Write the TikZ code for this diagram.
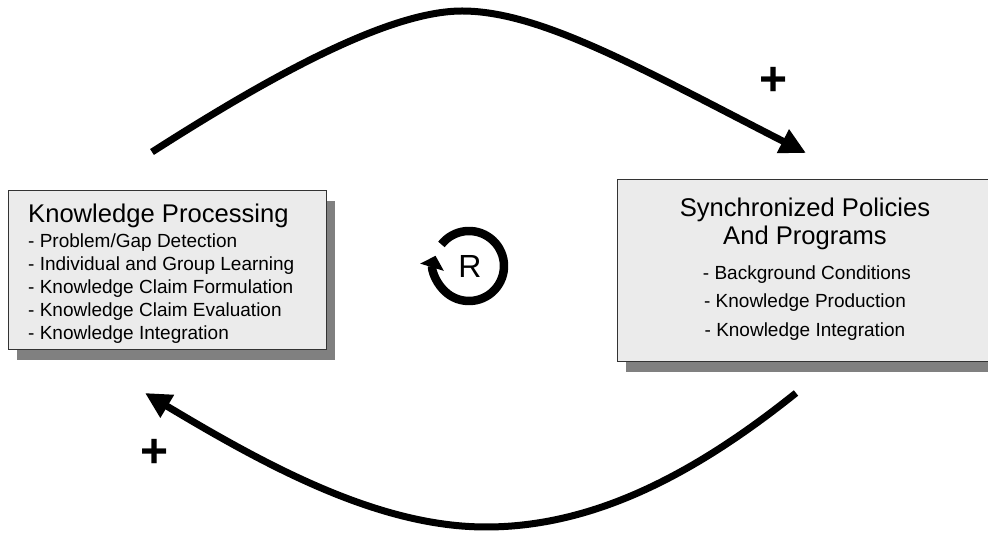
\documentclass[tikz,border=0pt]{standalone}
\usepackage{fontspec}
\setmainfont{Liberation Sans}
\usepackage{tikz}
\usetikzlibrary{arrows.meta,shadows}

\begin{document}
\begin{tikzpicture}[x=1pt, y=1pt,
  shadowbox/.style={draw=black!80, line width=1pt, fill=black!8, inner sep=0pt,
    drop shadow={shadow xshift=9pt, shadow yshift=-10pt, fill=black!50, opacity=1}},
  titletext/.style={inner sep=0pt, font=\fontsize{25.6}{28}\selectfont},
  itemtext/.style={inner sep=0pt, font=\fontsize{19}{23}\selectfont},
  loopline/.style={line width=7pt, -{Triangle[length=26pt, width=25pt]}},
  signtext/.style={inner sep=0pt, font=\fontsize{48}{48}\bfseries}]
  \useasboundingbox (0,0) rectangle (988,538);
  \clip (0,0) rectangle (988,538);
  \node[shadowbox, minimum width=318pt, minimum height=159pt] (kp) at (167,267.5) {};
  \node[shadowbox, minimum width=383pt, minimum height=182pt] (spp) at (808.5,267) {};
  \node[titletext, anchor=base west] (kpTitle) at (28,315) {Knowledge Processing};
  \node[itemtext, anchor=base west] (kpA) at (28,290) {- Problem/Gap Detection};
  \node[itemtext, anchor=base west] (kpB) at (28,267) {- Individual and Group Learning};
  \node[itemtext, anchor=base west] (kpC) at (28,244) {- Knowledge Claim Formulation};
  \node[itemtext, anchor=base west] (kpD) at (28,221) {- Knowledge Claim Evaluation};
  \node[itemtext, anchor=base west] (kpE) at (28,198) {- Knowledge Integration};
  \node[titletext, anchor=base] (sppTitleA) at (805,321) {Synchronized Policies};
  \node[titletext, anchor=base] (sppTitleB) at (805,293) {And Programs};
  \node[itemtext, anchor=base] (sppA) at (807,258) {- Background Conditions};
  \node[itemtext, anchor=base] (sppB) at (805,230) {- Knowledge Production};
  \node[itemtext, anchor=base] (sppC) at (805,201) {- Knowledge Integration};
  \coordinate (kpOut) at (152,386);
  \coordinate (sppIn) at (806,385);
  \coordinate (sppOut) at (796,145);
  \coordinate (kpIn) at (145,145);
  \draw[loopline] (kpOut) .. controls (260,455) and (385,527) .. (462,527)
    .. controls (540,527) and (640,470) .. (sppIn);
  \draw[loopline] (sppOut) .. controls (690,60) and (590,11) .. (486,11)
    .. controls (380,11) and (270,70) .. (kpIn);
  \node[signtext] (plusTop) at (774,457) {+};
  \node[signtext] (plusBot) at (155,85) {+};
  \coordinate (rCenter) at (469,272);
  \node[inner sep=0pt, anchor=base, font=\fontsize{32}{32}\selectfont] (rLabel) at (470,260) {R};
  \draw[line width=8.5pt, -{Triangle[length=12pt, width=24pt]}]
    (rCenter) ++(142:35) arc[start angle=142, end angle=-197, radius=35];
\end{tikzpicture}
\end{document}
